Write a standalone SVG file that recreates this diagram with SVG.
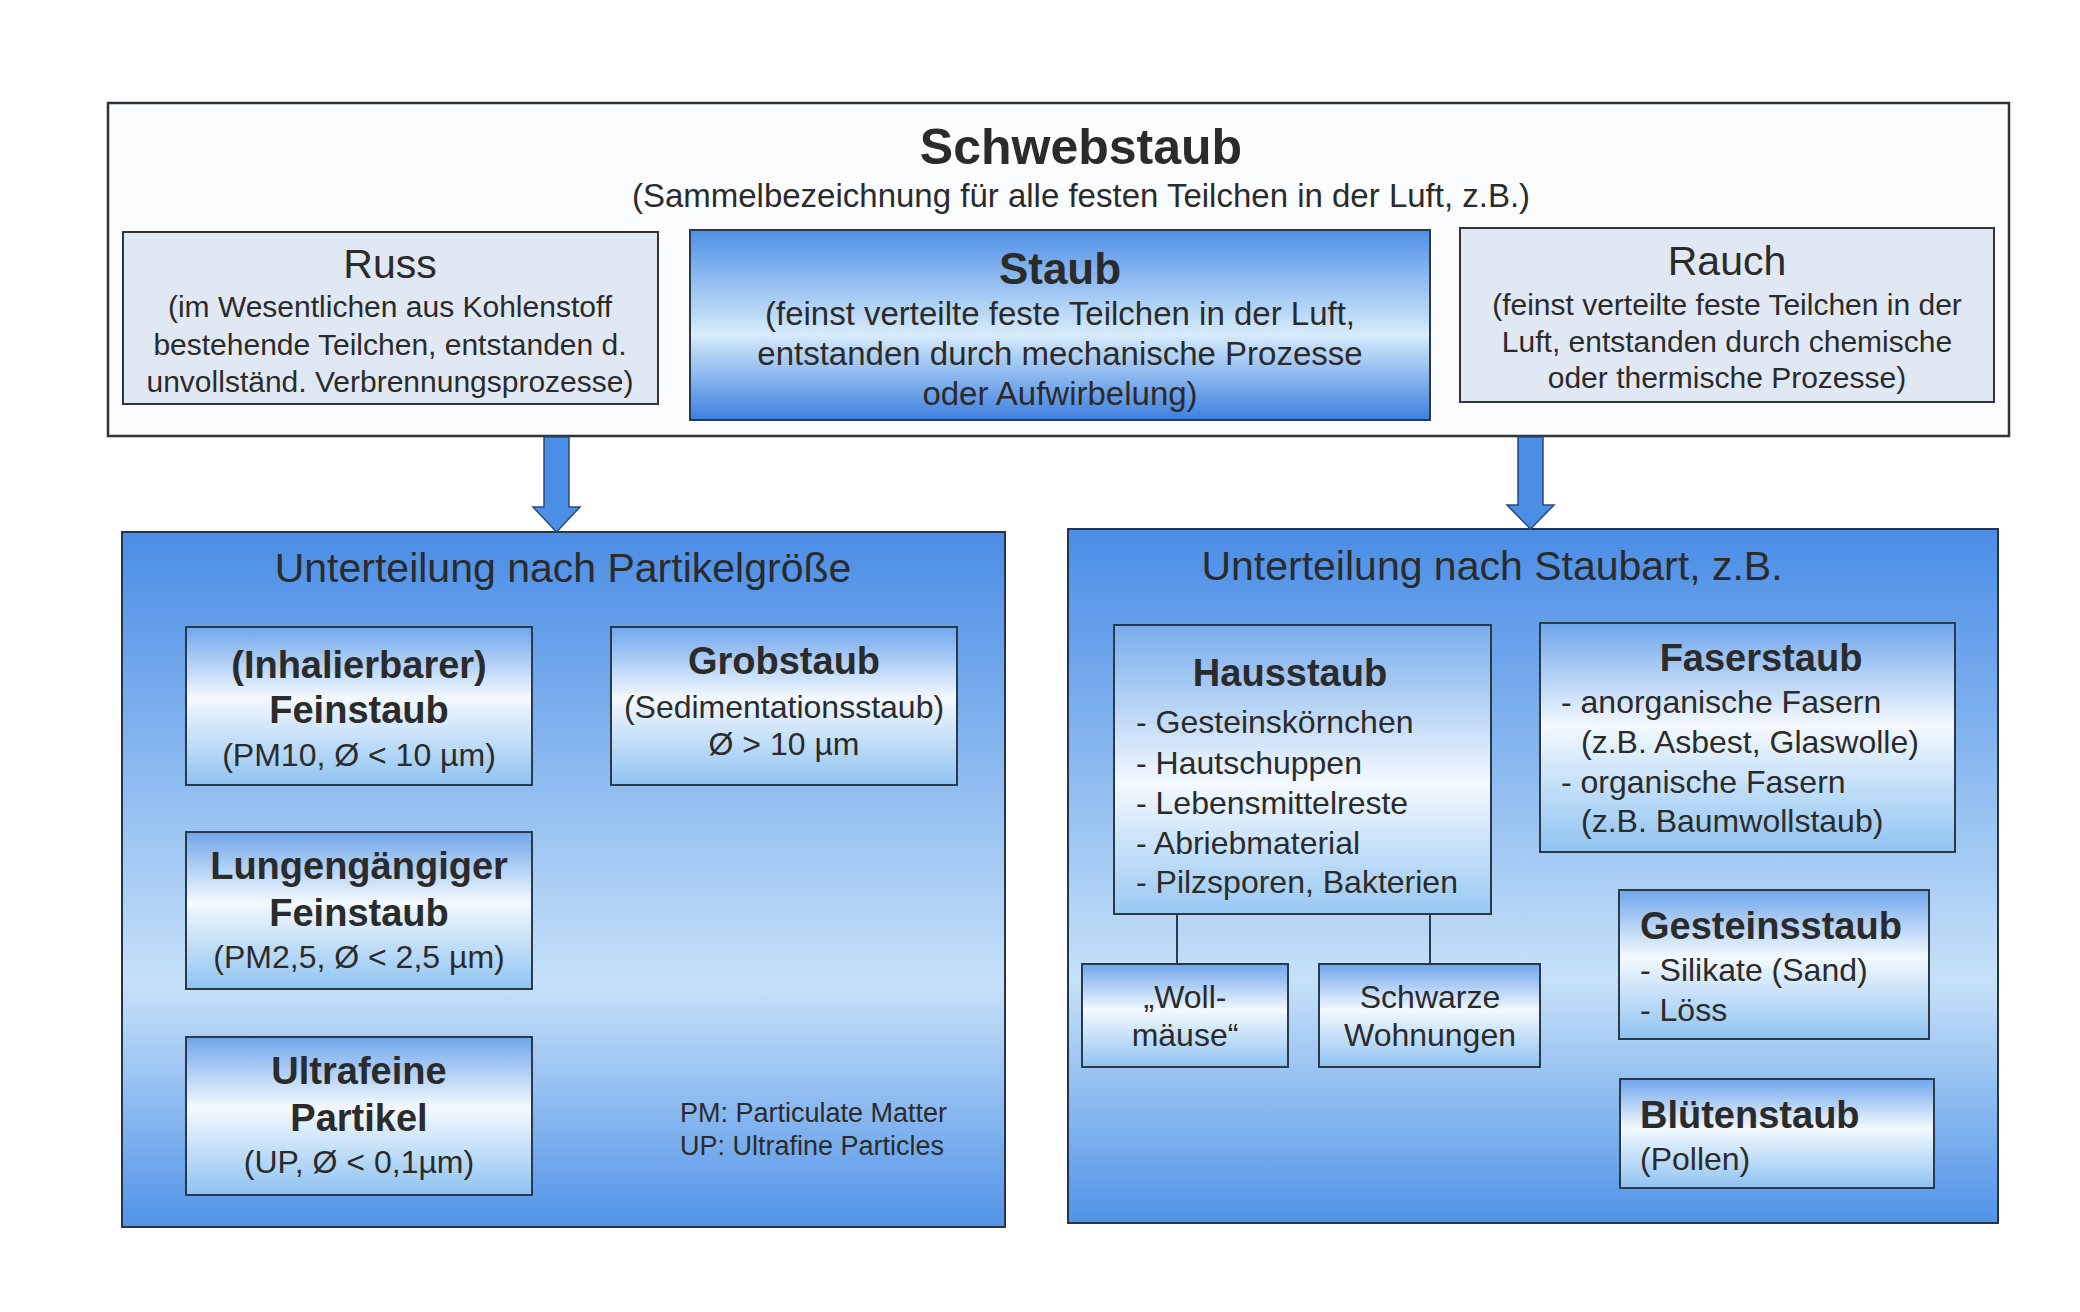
<svg xmlns="http://www.w3.org/2000/svg" width="2080" height="1312" viewBox="0 0 2080 1312">
<defs>
<linearGradient id="gStaub" x1="0" y1="0" x2="0" y2="1">
<stop offset="0" stop-color="#4f8fe6"/>
<stop offset="0.55" stop-color="#d6ecfb"/>
<stop offset="1" stop-color="#3d7fe0"/>
</linearGradient>
<linearGradient id="gPanel" x1="0" y1="0" x2="0" y2="1">
<stop offset="0" stop-color="#4a8de6"/>
<stop offset="0.65" stop-color="#c6e1f8"/>
<stop offset="1" stop-color="#5193e8"/>
</linearGradient>
<linearGradient id="gBox" x1="0" y1="0" x2="0" y2="1">
<stop offset="0" stop-color="#6fa6ec"/>
<stop offset="0.45" stop-color="#f3f9fe"/>
<stop offset="1" stop-color="#8fc3f1"/>
</linearGradient>
<linearGradient id="gBoxTall" x1="0" y1="0" x2="0" y2="1">
<stop offset="0" stop-color="#78adec"/>
<stop offset="0.55" stop-color="#f3f9fe"/>
<stop offset="1" stop-color="#98c8f2"/>
</linearGradient>
</defs>
<style>
text{font-family:"Liberation Sans",Arial,sans-serif;fill:#2b2b2b}
.c{text-anchor:middle}
.b{font-weight:bold}
.frame{fill:#fafcfd;stroke:#333;stroke-width:2.5}
.grey{fill:#e0e8f4;stroke:#333;stroke-width:2}
.staub{fill:url(#gStaub);stroke:#2a3a4a;stroke-width:2}
.panel{fill:url(#gPanel);stroke:#24344a;stroke-width:2}
.box{fill:url(#gBox);stroke:#2a3a4a;stroke-width:2}
.boxt{fill:url(#gBoxTall);stroke:#2a3a4a;stroke-width:2}
.arrow{fill:#4a8ee6;stroke:#2a4a7a;stroke-width:1.5}
.line{stroke:#2a3a4a;stroke-width:2;fill:none}
.t50{font-size:50px}.t44{font-size:44px}.t41{font-size:41px}.t38{font-size:38px}
.t33{font-size:33px}.t32{font-size:32px}.t30{font-size:30px}.t27{font-size:27px}
</style>
<rect width="2080" height="1312" fill="#ffffff"/>

<g id="schwebstaub">
<rect class="frame" x="108" y="103" width="1901" height="333"/>
<text class="c b t50" x="1081" y="164">Schwebstaub</text>
<text class="c t33" x="1081" y="207">(Sammelbezeichnung für alle festen Teilchen in der Luft, z.B.)</text>
</g>

<g id="russ">
<rect class="grey" x="123" y="232" width="535" height="172"/>
<text class="c t41" x="390" y="278">Russ</text>
<text class="c t30" x="390" y="317">(im Wesentlichen aus Kohlenstoff</text>
<text class="c t30" x="390" y="355">bestehende Teilchen, entstanden d.</text>
<text class="c t30" x="390" y="392">unvollständ. Verbrennungsprozesse)</text>
</g>

<g id="staub">
<rect class="staub" x="690" y="230" width="740" height="190"/>
<text class="c b t44" x="1060" y="284">Staub</text>
<text class="c t33" x="1060" y="325">(feinst verteilte feste Teilchen in der Luft,</text>
<text class="c t33" x="1060" y="365">entstanden durch mechanische Prozesse</text>
<text class="c t33" x="1060" y="405">oder Aufwirbelung)</text>
</g>

<g id="rauch">
<rect class="grey" x="1460" y="228" width="534" height="174"/>
<text class="c t41" x="1727" y="275">Rauch</text>
<text class="c t30" x="1727" y="315">(feinst verteilte feste Teilchen in der</text>
<text class="c t30" x="1727" y="352">Luft, entstanden durch chemische</text>
<text class="c t30" x="1727" y="388">oder thermische Prozesse)</text>
</g>

<g id="partikelgroesse">
<rect class="panel" x="122" y="532" width="883" height="695"/>
<text class="c t41" x="563" y="582">Unterteilung nach Partikelgröße</text>
<text class="t27" x="680" y="1122">PM: Particulate Matter</text>
<text class="t27" x="680" y="1155">UP: Ultrafine Particles</text>
</g>

<g id="feinstaub">
<rect class="box" x="186" y="627" width="346" height="158"/>
<text class="c b t38" x="359" y="678">(Inhalierbarer)</text>
<text class="c b t38" x="359" y="723">Feinstaub</text>
<text class="c t32" x="359" y="766">(PM10, Ø &lt; 10 µm)</text>
</g>

<g id="grobstaub">
<rect class="box" x="611" y="627" width="346" height="158"/>
<text class="c b t38" x="784" y="674">Grobstaub</text>
<text class="c t32" x="784" y="718">(Sedimentationsstaub)</text>
<text class="c t32" x="784" y="755">Ø &gt; 10 µm</text>
</g>

<g id="lungengaengig">
<rect class="box" x="186" y="832" width="346" height="157"/>
<text class="c b t38" x="359" y="879">Lungengängiger</text>
<text class="c b t38" x="359" y="926">Feinstaub</text>
<text class="c t32" x="359" y="968">(PM2,5, Ø &lt; 2,5 µm)</text>
</g>

<g id="ultrafein">
<rect class="box" x="186" y="1037" width="346" height="158"/>
<text class="c b t38" x="359" y="1084">Ultrafeine</text>
<text class="c b t38" x="359" y="1131">Partikel</text>
<text class="c t32" x="359" y="1173">(UP, Ø &lt; 0,1µm)</text>
</g>

<g id="staubart">
<rect class="panel" x="1068" y="529" width="930" height="694"/>
<text class="c t41" x="1492" y="580">Unterteilung nach Staubart, z.B.</text>
</g>

<g id="hausstaub">
<rect class="boxt" x="1114" y="625" width="377" height="289"/>
<text class="c b t38" x="1290" y="686">Hausstaub</text>
<text class="t32" x="1136" y="733">- Gesteinskörnchen</text>
<text class="t32" x="1136" y="774">- Hautschuppen</text>
<text class="t32" x="1136" y="814">- Lebensmittelreste</text>
<text class="t32" x="1136" y="854">- Abriebmaterial</text>
<text class="t32" x="1136" y="893">- Pilzsporen, Bakterien</text>
</g>

<g id="faserstaub">
<rect class="box" x="1540" y="623" width="415" height="229"/>
<text class="c b t38" x="1761" y="671">Faserstaub</text>
<text class="t32" x="1561" y="713">- anorganische Fasern</text>
<text class="t32" x="1581" y="753">(z.B. Asbest, Glaswolle)</text>
<text class="t32" x="1561" y="793">- organische Fasern</text>
<text class="t32" x="1581" y="832">(z.B. Baumwollstaub)</text>
</g>

<g id="gesteinsstaub">
<rect class="box" x="1619" y="890" width="310" height="149"/>
<text class="b t38" x="1640" y="939">Gesteinsstaub</text>
<text class="t32" x="1640" y="981">- Silikate (Sand)</text>
<text class="t32" x="1640" y="1021">- Löss</text>
</g>

<g id="bluetenstaub">
<rect class="box" x="1620" y="1079" width="314" height="109"/>
<text class="b t38" x="1640" y="1128">Blütenstaub</text>
<text class="t32" x="1640" y="1170">(Pollen)</text>
</g>

<g id="wollmaeuse">
<rect class="box" x="1082" y="964" width="206" height="103"/>
<text class="c t32" x="1185" y="1008">„Woll-</text>
<text class="c t32" x="1185" y="1046">mäuse“</text>
</g>

<g id="schwarze-wohnungen">
<rect class="box" x="1319" y="964" width="221" height="103"/>
<text class="c t32" x="1430" y="1008">Schwarze</text>
<text class="c t32" x="1430" y="1046">Wohnungen</text>
</g>

<g id="connectors">
<polygon class="arrow" points="544,437 569,437 569,507 580,507 556.5,532 533,507 544,507"/>
<polygon class="arrow" points="1518,437 1543,437 1543,505 1554,505 1530.5,529 1507,505 1518,505"/>
<line class="line" x1="1177" y1="914" x2="1177" y2="964"/>
<line class="line" x1="1430" y1="914" x2="1430" y2="964"/>
</g>
</svg>
